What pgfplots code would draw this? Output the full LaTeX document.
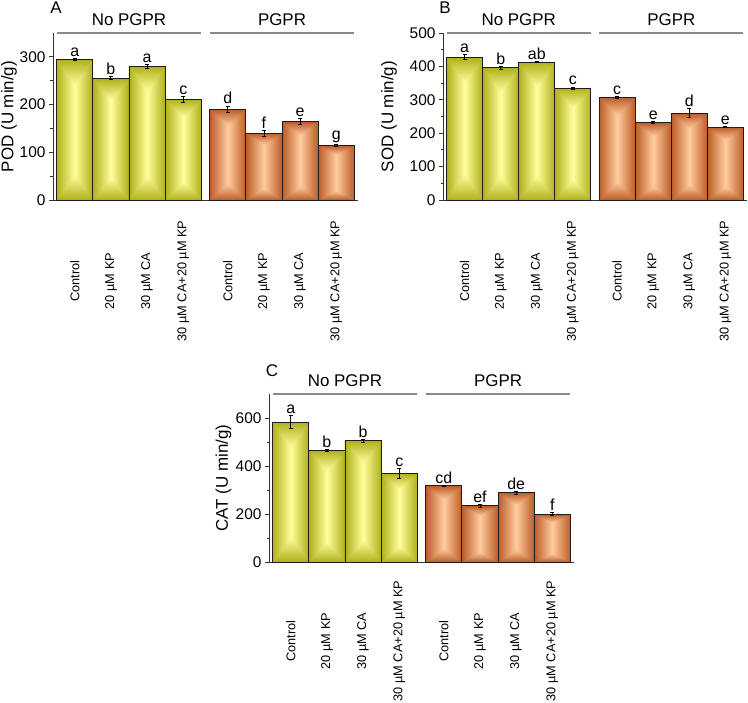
\documentclass[border=0pt]{standalone}
\usepackage{fontspec}
\setmainfont{Liberation Sans}
\usepackage{pgfplots}
\usepackage{pgfplotstable}
\pgfplotsset{compat=1.18}

\definecolor{olD}{HTML}{B0B01C}
\definecolor{olL}{HTML}{FFFF9C}
\definecolor{orD}{HTML}{BC5C26}
\definecolor{orL}{HTML}{FFCCA0}
\definecolor{axc}{HTML}{333333}
\definecolor{barc}{HTML}{1E1E1E}
\definecolor{grp}{HTML}{8A8A8A}

\pgfdeclareverticalshading{olV}{100bp}{color(0bp)=(olD); color(25bp)=(olD); color(34bp)=(olL); color(66bp)=(olL); color(75bp)=(olD); color(100bp)=(olD)}
\pgfdeclareverticalshading{orV}{100bp}{color(0bp)=(orD); color(25bp)=(orD); color(34bp)=(orL); color(66bp)=(orL); color(75bp)=(orD); color(100bp)=(orD)}

\newcommand\tickf{\fontsize{15.5}{17}\selectfont}
\newcommand\labf{\fontsize{17}{19}\selectfont}
\newcommand\catf{\fontsize{12.8}{15}\selectfont}
\newcommand\grpf{\fontsize{17}{19}\selectfont}
\newcommand\letf{\fontsize{16}{18}\selectfont}

% panel A: POD
\pgfplotstableread{
x y err lab
0 294 2 a
1 255 3 b
2 280 4 a
3 211 6 c
}\Aone
\pgfplotstableread{
x y err lab
4.23 190 7 d
5.23 140 6 f
6.23 164 6 e
7.23 114 2 g
}\Atwo
% panel B: SOD
\pgfplotstableread{
x y err lab
0 428 8 a
1 396 4 b
2 413 2 ab
3 335 3 c
}\Bone
\pgfplotstableread{
x y err lab
4.23 308 3 c
5.23 232 4 e
6.23 260 14 d
7.23 218 2 e
}\Btwo
% panel C: CAT
\pgfplotstableread{
x y err lab
0 583 28 a
1 465 3 b
2 505 5 b
3 370 21 c
}\Cone
\pgfplotstableread{
x y err lab
4.23 317 3 cd
5.23 234 6 ef
6.23 289 6 de
7.23 199 6 f
}\Ctwo

\pgfplotsset{
  panel/.style={
    scale only axis, anchor=south west, clip=false,
    xmin=-0.6, xmax=7.83, ymin=0,
    axis lines*=left,
    axis line style={axc, line width=0.9bp},
    tick align=outside,
    major tick length=4bp, minor tick length=2.5bp,
    tick style={axc, line width=0.8bp},
    minor y tick num=1,
    xtick={0,1,2,3,4.23,5.23,6.23,7.23},
    xticklabels={Control,20 µM KP,30 µM CA,30 µM CA+20 µM KP,Control,20 µM KP,30 µM CA,30 µM CA+20 µM KP},
    x tick style={draw=none},
    xticklabel style={font=\catf, yshift=-#1, rotate=90, anchor=center},
    yticklabel style={font=\tickf},
    /pgf/number format/assume math mode=true,
    every axis y label/.style={rotate=90, anchor=center, font=\labf},
  },
  bfill/.style n args={2}{ybar, bar width=1, bar shift=0pt, draw=none, left color=#1, right color=#1, middle color=#2},
  bvert/.style={ybar, bar width=1, bar shift=0pt, draw=none, shading=#1, shade, blend mode=darken},
  bline/.style={ybar, bar width=1, bar shift=0pt, draw=barc, fill=none, line width=0.9bp,
    error bars/y dir=both, error bars/y explicit,
    error bars/error bar style={black, line width=0.8bp},
    error bars/error mark options={rotate=90, mark size=2bp, line width=0.8bp, black}},
}

\newcommand\groups[1]{%
  \draw[grp, line width=1.1bp] (axis cs:-0.5,#1) -- (axis cs:3.5,#1);
  \draw[grp, line width=1.1bp] (axis cs:3.73,#1) -- (axis cs:7.73,#1);
  \node[font=\grpf, yshift=13bp] at (axis cs:1.5,#1) {No PGPR};
  \node[font=\grpf, yshift=13bp] at (axis cs:5.73,#1) {PGPR};
}

\newcommand\bars[5]{% table, dark, light, vshade, yscale
  \pgfplotsinvokeforeach{0,1,2,3}{%
    \addplot[bfill={#2}{#3}, restrict expr to domain={\coordindex}{##1:##1}] table[x=x,y=y]{#1};
    \addplot[bvert=#4, restrict expr to domain={\coordindex}{##1:##1}] table[x=x,y=y]{#1};
  }
  \addplot[bline, visualization depends on={\thisrow{err}\as\eb},
    nodes near coords, point meta=explicit symbolic,
    nodes near coords style={font=\letf, text=black, anchor=south, inner sep=1.5bp, yshift=\eb*#5bp}]
    table[x=x,y=y,y error=err,meta=lab]{#1};
}

\begin{document}
\begin{tikzpicture}
\path[use as bounding box] (0,0) rectangle (748bp,703bp);

\begin{axis}[panel=77bp, at={(53bp,503bp)}, width=305bp, height=167bp, ymax=350,
  ytick={0,100,200,300}, ylabel={POD (U min/g)},
  every axis y label/.append style={at={(axis description cs:-0.144,0.5)}}]
\bars{\Aone}{olD}{olL}{olV}{0.4771}
\bars{\Atwo}{orD}{orL}{orV}{0.4771}
\groups{350}
\end{axis}

\begin{axis}[panel=77bp, at={(443bp,503bp)}, width=304bp, height=167bp, ymax=500,
  ytick={0,100,200,300,400,500}, ylabel={SOD (U min/g)},
  every axis y label/.append style={at={(axis description cs:-0.178,0.5)}}]
\bars{\Bone}{olD}{olL}{olV}{0.334}
\bars{\Btwo}{orD}{orL}{orV}{0.334}
\groups{500}
\end{axis}

\begin{axis}[panel=75bp, at={(269bp,141bp)}, width=305bp, height=168bp, ymax=700,
  ytick={0,200,400,600}, ylabel={CAT (U min/g)},
  every axis y label/.append style={at={(axis description cs:-0.149,0.5)}}]
\bars{\Cone}{olD}{olL}{olV}{0.24}
\bars{\Ctwo}{orD}{orL}{orV}{0.24}
\groups{700}
\end{axis}

\node[font=\grpf] at (56bp,695.5bp) {A};
\node[font=\grpf] at (445bp,695.5bp) {B};
\node[font=\grpf] at (272bp,332bp) {C};
\end{tikzpicture}
\end{document}
